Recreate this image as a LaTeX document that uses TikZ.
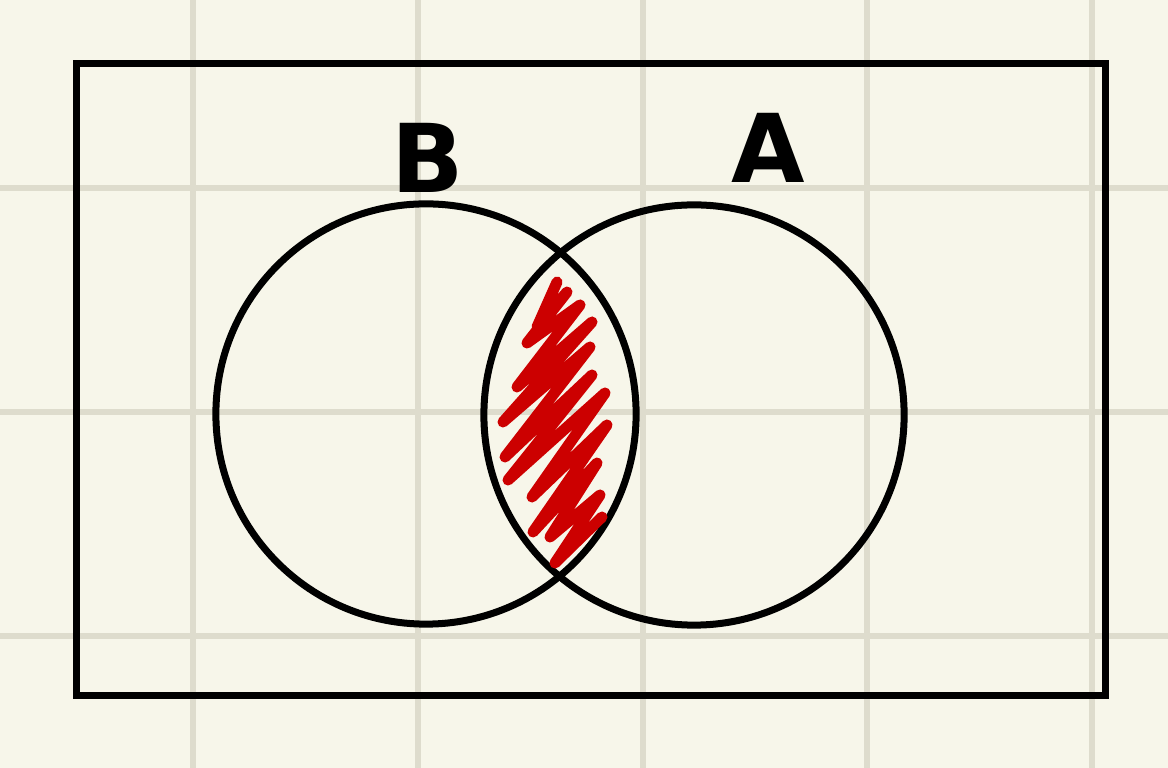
\documentclass[tikz,border=0pt]{standalone}
\usepackage{fontspec}
\setsansfont{DejaVu Sans}
\usepackage{tikz}
\usetikzlibrary{shapes.geometric}

\definecolor{paper}{HTML}{F7F6EA}
\definecolor{gridbeige}{HTML}{DEDCCD}
\definecolor{inkred}{HTML}{CC0000}

\begin{document}
\begin{tikzpicture}[x=0.01cm, y=-0.01cm,
  gridline/.style={draw=gridbeige, line width=0.06cm},
  universe/.style={draw, line width=0.07cm, minimum width=10.28cm, minimum height=6.31cm, inner sep=0},
  setcircle/.style={circle, draw, line width=0.07cm, minimum size=4.2cm, inner sep=0},
  setlabel/.style={font=\sffamily\bfseries\fontsize{27}{30}\selectfont},
  scribble/.style={draw=inkred, line width=0.11cm, line join=round, line cap=round}
]

% paper and grid
\fill[paper] (0,0) rectangle (1168,768);
\useasboundingbox (0,0) rectangle (1168,768);
\foreach \gx in {193,418,643,867,1092}
  \draw[gridline] (\gx,0) -- (\gx,768);
\foreach \gy in {188,412,636}
  \draw[gridline] (0,\gy) -- (1168,\gy);

% universe and sets
\node[universe] (U) at (591,379.5) {};
\node[setcircle] (B) at (426,414) {};
\node[setcircle] (A) at (694,415) {};

% labels
\node[setlabel] (labB) at (428,158) {B};
\node[setlabel] (labA) at (768,148) {A};

% shaded intersection (hand scribble)
\draw[scribble] (557,282) -- (537,327) -- (567,292) -- (527,343) -- (580,305)
  -- (517,387) -- (592,322) -- (503,422) -- (590,347) -- (505,457)
  -- (592,375) -- (508,480) -- (605,393) -- (532,497) -- (607,425)
  -- (533,532) -- (597,463) -- (550,537) -- (600,495) -- (555,563) -- (602,517);

\end{tikzpicture}
\end{document}
